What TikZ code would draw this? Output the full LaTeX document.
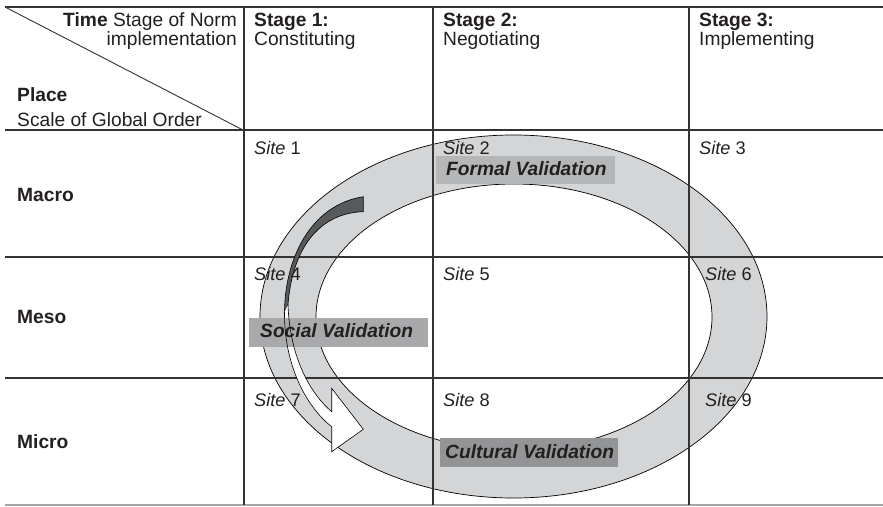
\documentclass[tikz,border=0pt]{standalone}
\usepackage{fontspec}
\setmainfont{Liberation Sans}
\definecolor{ringgray}{HTML}{D4D5D7}
\definecolor{gridc}{HTML}{333333}
\definecolor{darkarrow}{HTML}{58595B}
\definecolor{boxA}{HTML}{B5B6B8}
\definecolor{boxB}{HTML}{A8A9AB}
\definecolor{boxC}{HTML}{939496}
\definecolor{txt}{HTML}{231F20}
\tikzset{
  gridline/.style={draw=gridc, line width=1.1pt},
  lbl/.style={inner sep=0pt, anchor=base west, font=\fontsize{19.2}{22}\selectfont, text=txt},
  lblr/.style={inner sep=0pt, anchor=base east, font=\fontsize{19.2}{22}\selectfont, text=txt},
  sitelbl/.style={inner sep=0pt, anchor=base west, font=\fontsize{18.2}{21}\selectfont, text=txt},
  valbox/.style={inner sep=0pt, anchor=north west},
  valtxt/.style={inner sep=0pt, anchor=base west, font=\fontsize{19.2}{22}\selectfont\bfseries\itshape, text=txt},
}
\begin{document}
\begin{tikzpicture}[x=1pt,y=-1pt]
\useasboundingbox (0,0) rectangle (883,506);
% ring
\fill[ringgray, even odd rule] (513.5,316.5) ellipse [x radius=253.5, y radius=181.5]
  (514,317) ellipse [x radius=198, y radius=133];
\draw[black, line width=0.7pt] (513.5,316.5) ellipse [x radius=253.5, y radius=181.5];
\draw[black, line width=0.7pt] (514,317) ellipse [x radius=198, y radius=133];
% grid
\draw[gridline] (5,7) -- (883,7);
\draw[gridline] (5,130) -- (883,130);
\draw[gridline] (5,257) -- (883,257);
\draw[gridline] (5,378) -- (883,378);
\draw[draw=gray!70, line width=1.1pt] (5,505) -- (883,505);
\draw[gridline] (244,7) -- (244,505);
\draw[gridline] (433,7) -- (433,505);
\draw[gridline] (689,7) -- (689,505);
\coordinate (dA) at (5,7);
\coordinate (dB) at (243,130);
\draw[draw=gridc, line width=0.9pt] (dA) -- (dB);
% header texts
\node[lblr] (time) at (237,26) {\textbf{Time} Stage of Norm};
\node[lblr] (impl) at (237,45) {implementation};
\node[lbl] (place) at (17,101) {\textbf{Place}};
\node[lbl] (scale) at (17,126) {Scale of Global Order};
\node[lbl] (s1) at (254,26) {\textbf{Stage 1:}};
\node[lbl] (s1b) at (254,45) {Constituting};
\node[lbl] (s2) at (443,26) {\textbf{Stage 2:}};
\node[lbl] (s2b) at (443,45) {Negotiating};
\node[lbl] (s3) at (699,26) {\textbf{Stage 3:}};
\node[lbl] (s3b) at (699,45) {Implementing};
\node[lbl] (macro) at (17,201) {\textbf{Macro}};
\node[lbl] (meso) at (17,323) {\textbf{Meso}};
\node[lbl] (micro) at (17,448) {\textbf{Micro}};
% arrow: dark part
\fill[darkarrow, draw=black, line width=0.6pt]
  (284.5,315) .. controls (284,260) and (310,205) .. (363.3,196.7)
  -- (363.3,211.7) .. controls (318,213) and (292,250) .. (288,305) -- cycle;
% arrow: white part
\fill[white]
  (284.5,312) .. controls (284,370) and (310,410) .. (331.7,426.7)
  -- (331.7,451.7) -- (363.3,429.3) -- (331.7,388.3) -- (331.7,411.7)
  .. controls (312,395) and (290,360) .. (288,305) -- cycle;
% validation boxes
\node[valbox, fill=boxA, minimum width=179pt, minimum height=28pt] (formal) at (436,156) {};
\node[valtxt] (formalt) at (446,175) {Formal Validation};
\node[valbox, fill=boxB, minimum width=179pt, minimum height=29pt] (social) at (249,318) {};
\node[valtxt] (socialt) at (260,337.3) {Social Validation};
\node[valbox, fill=boxC, minimum width=178pt, minimum height=29pt] (cultural) at (440,438) {};
\node[valtxt] (culturalt) at (445,458) {Cultural Validation};
% arrow outline on top
\draw[black, line width=0.6pt]
  (284.5,312) .. controls (284,370) and (310,410) .. (331.7,426.7)
  -- (331.7,451.7) -- (363.3,429.3) -- (331.7,388.3) -- (331.7,411.7)
  .. controls (312,395) and (290,360) .. (288,305);
% site labels
\node[sitelbl] (site1) at (254,154) {\textit{Site} 1};
\node[sitelbl] (site2) at (443,154) {\textit{Site} 2};
\node[sitelbl] (site3) at (699,154) {\textit{Site} 3};
\node[sitelbl] (site4) at (254,280) {\textit{Site} 4};
\node[sitelbl] (site5) at (443,280) {\textit{Site} 5};
\node[sitelbl] (site6) at (705,280) {\textit{Site} 6};
\node[sitelbl] (site7) at (254,406) {\textit{Site} 7};
\node[sitelbl] (site8) at (443,406) {\textit{Site} 8};
\node[sitelbl] (site9) at (705,406) {\textit{Site} 9};
\end{tikzpicture}
\end{document}
